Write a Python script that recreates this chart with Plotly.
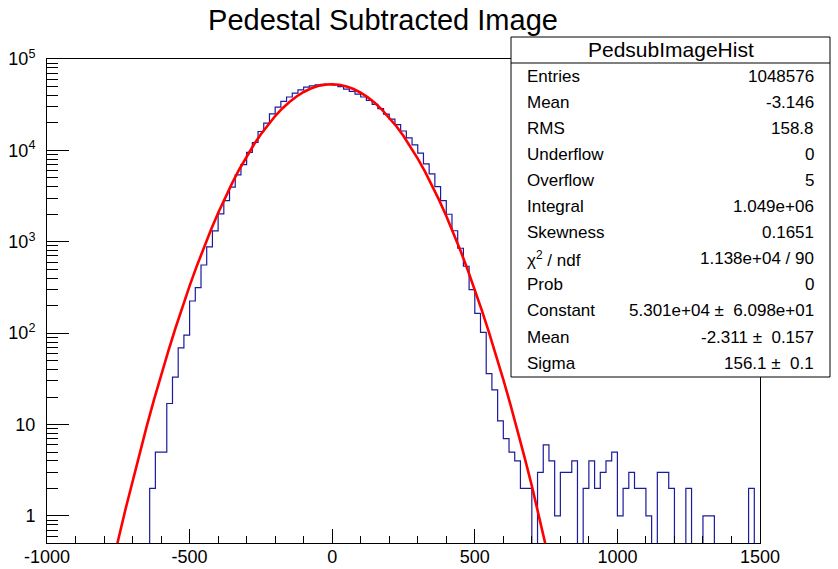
import numpy as np
import plotly.graph_objects as go

# ---------------- data ----------------
BIN_LOW, BIN_HIGH, BIN_WIDTH = -1000, 1500, 20
# counts per bin, starting at the first bin (-1000) ; 125 bins
leading_zero_bins = [0] * 18  # -1000 .. -660
bin_counts_from_m640 = [
    2, 5, 5, 17, 33, 69, 95, 225, 315, 557,            # -640 .. -460
    879, 1315, 2018, 2826, 3960, 5400, 7000, 9500,      # -440 .. -300
    12200, 16100, 19900, 25100, 29800, 34300, 38400,    # -280 .. -160
    42400, 46000, 49300, 50900, 52000, 52700, 52600,    # -140 .. -20
    52000, 49800, 46900, 44200, 41300, 38400, 35200,    # 0 .. 120
    31800, 28600, 24900, 22000, 19100, 16300, 13700,    # 140 .. 260
    11500, 9330, 7130, 5530, 4020, 2820, 2000, 1320,    # 280 .. 420
    850, 540, 300, 165, 102, 36, 24, 11, 7, 5, 4,       # 440 .. 640
    2, 2, 0, 3, 6, 4, 1, 3, 3, 4, 0, 2, 4, 2, 3, 4, 5,  # 660 .. 980
    1, 2, 3, 2, 2, 1, 0, 3, 3, 2, 0, 0, 2, 0, 0,        # 1000 .. 1280
    1, 1, 0, 0, 0, 0, 0, 0, 2, 0,                       # 1300 .. 1480
]
counts = leading_zero_bins + bin_counts_from_m640

# Gaussian fit parameters (from stats box)
fit_constant, fit_mean, fit_sigma = 5.301e4, -2.311, 156.1

title_text = "Pedestal Subtracted Image"
stats_title = "PedsubImageHist"
stats_labels = ["Entries", "Mean", "RMS", "Underflow", "Overflow", "Integral",
                "Skewness", "\u03c7<sup>2</sup> / ndf", "Prob", "Constant", "Mean", "Sigma"]
stats_values = ["1048576", "-3.146", "158.8", "0", "5", "1.049e+06", "0.1651",
                "1.138e+04 / 90", "0", "5.301e+04 \u00b1  6.098e+01",
                "-2.311 \u00b1  0.157", "156.1 \u00b1  0.1"]

x_tick_vals = [-1000, -500, 0, 500, 1000, 1500]
y_tick_vals = [1, 10, 100, 1000, 10000, 100000]
y_tick_text = ["1", "10", "10<sup>2</sup>", "10<sup>3</sup>", "10<sup>4</sup>", "10<sup>5</sup>"]

# ---------------- build ----------------
nbins = int((BIN_HIGH - BIN_LOW) / BIN_WIDTH)
assert len(counts) == nbins, len(counts)
edges = BIN_LOW + BIN_WIDTH * np.arange(nbins + 1)
cnt = np.array(counts, dtype=float)
cnt_plot = np.where(cnt > 0, cnt, 1e-3)  # empty bins drop below the log axis
hx = edges
hy = np.append(cnt_plot, cnt_plot[-1])

fx = np.linspace(BIN_LOW, BIN_HIGH, 101)
fy = fit_constant * np.exp(-0.5 * ((fx - fit_mean) / fit_sigma) ** 2)

W, H = 838, 569
PL, PR, PT, PB = 47, 760, 59, 543
FONT = "Liberation Sans, Arial, Helvetica, sans-serif"


def pxx(px):
    return (px - PL) / (PR - PL)


def pxy(py):
    return (PB - py) / (PB - PT)


fig = go.Figure()
fig.add_trace(go.Scatter(x=hx, y=hy, mode="lines", line=dict(color="#1b1b9e", width=1.2, shape="hv"),
                         hoverinfo="skip", showlegend=False))
fig.add_trace(go.Scatter(x=fx, y=fy, mode="lines", line=dict(color="#ff0000", width=2.6),
                         hoverinfo="skip", showlegend=False))

fig.update_layout(
    width=W, height=H,
    margin=dict(l=PL, r=W - PR, t=PT, b=H - PB, pad=0),
    paper_bgcolor="white", plot_bgcolor="white",
    template="none",
    showlegend=False,
    font=dict(family=FONT, color="black"),
    title=dict(text=title_text, x=383 / W, xanchor="center", xref="container",
               y=1 - 20 / H, yanchor="middle", yref="container",
               font=dict(size=29, family=FONT, color="black")),
)

fig.update_xaxes(
    range=[BIN_LOW, BIN_HIGH], showgrid=False, zeroline=False,
    showline=True, linecolor="black", linewidth=1, mirror=True,
    ticks="inside", ticklen=14, tickwidth=1, tickcolor="black",
    tickmode="array", tickvals=x_tick_vals, ticktext=[str(v) for v in x_tick_vals],
    tickfont=dict(size=18, family=FONT, color="black"),
    minor=dict(ticks="inside", ticklen=7, tickwidth=1, tickcolor="black", dtick=100, tick0=0, showgrid=False),
    automargin=False, ticklabelstandoff=-3,
)
fig.update_yaxes(
    type="log", range=[-0.296, 5], showgrid=False, zeroline=False,
    showline=True, linecolor="black", linewidth=1, mirror=True,
    ticks="inside", ticklen=22, tickwidth=1, tickcolor="black",
    tickmode="array", tickvals=y_tick_vals, ticktext=y_tick_text,
    tickfont=dict(size=18, family=FONT, color="black"),
    minor=dict(ticks="inside", ticklen=11, tickwidth=1, tickcolor="black", dtick="D1", showgrid=False),
    automargin=False, ticklabelstandoff=7,
)

# stats box
BX0, BX1, BY0, BY1, BHEAD = 511, 830, 37, 377, 63
fig.add_shape(type="rect", xref="paper", yref="paper",
              x0=pxx(BX0), x1=pxx(BX1), y0=pxy(BY1), y1=pxy(BY0),
              line=dict(color="black", width=1), fillcolor="white", layer="above")
fig.add_shape(type="line", xref="paper", yref="paper",
              x0=pxx(BX0), x1=pxx(BX1), y0=pxy(BHEAD), y1=pxy(BHEAD),
              line=dict(color="black", width=1), layer="above")
fig.add_annotation(text=stats_title, xref="paper", yref="paper", x=pxx((BX0 + BX1) / 2), y=pxy(50),
                   xanchor="center", yanchor="middle", showarrow=False,
                   font=dict(size=21, family=FONT, color="black"))
row0, drow = 76, 26.1
for i, (lab, val) in enumerate(zip(stats_labels, stats_values)):
    yy = row0 + i * drow
    fig.add_annotation(text=lab, xref="paper", yref="paper", x=pxx(525), y=pxy(yy),
                       xanchor="left", yanchor="middle", showarrow=False,
                       font=dict(size=17, family=FONT, color="black"))
    fig.add_annotation(text=val, xref="paper", yref="paper", x=pxx(816), y=pxy(yy),
                       xanchor="right", yanchor="middle", showarrow=False,
                       font=dict(size=17, family=FONT, color="black"))

fig.write_html("out.html", config={"displayModeBar": False},
               post_script="document.body.style.margin='0';document.body.style.padding='0';"
                           "document.documentElement.style.overflow='hidden';")
